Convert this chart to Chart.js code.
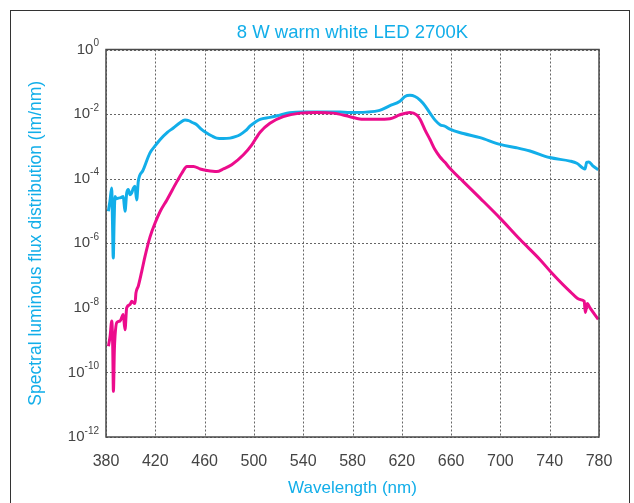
<!DOCTYPE html>
<html>
<head>
<meta charset="utf-8">
<script src="https://cdn.jsdelivr.net/npm/chart.js@4.4.1/dist/chart.umd.min.js"></script>
<style>
  html, body { margin: 0; padding: 0; background: #fff; }
  canvas { display: block; }
</style>
</head>
<body>
<canvas id="c" width="634" height="503"></canvas>
<script>
// ---- data ----
const blueWl = [381.9,383.2,384.6,385.2,385.9,386.6,387.3,388.5,390,392,394,395.4,396.8,398.1,399.5,400.8,402.2,403.5,404.9,406.2,410,415.7,420,423.8,430,434.6,440,444.1,447,450,453.6,457,461.7,466,469.8,475,480.6,485,488.7,493,497,501,505,513,521,529,540,555,570,578,591,602,610,618.5,622.6,626.6,630.7,634.8,638.9,643,647,651,655,659,670,683.5,699.7,713,724,740,756.5,762,768.6,770,771.8,775,779.4];
const blueVal = [9.8e-6,2.0e-5,5.1e-5,6.3e-6,3.5e-7,5.0e-6,2.8e-5,2.4e-5,2.5e-5,2.6e-5,2.8e-5,9.8e-6,3.6e-5,4.6e-5,3.2e-5,3.6e-5,5.1e-5,5.8e-5,2.2e-5,8.3e-5,1.8e-4,6.3e-4,1.05e-3,1.6e-3,2.75e-3,3.7e-3,5.4e-3,6.5e-3,6.3e-3,5.5e-3,4.7e-3,3.5e-3,2.6e-3,2.1e-3,1.8e-3,1.74e-3,1.8e-3,2.0e-3,2.3e-3,3.0e-3,4.3e-3,5.6e-3,6.9e-3,7.9e-3,9.3e-3,1.1e-2,1.17e-2,1.17e-2,1.15e-2,1.12e-2,1.15e-2,1.3e-2,1.8e-2,2.5e-2,3.5e-2,3.8e-2,3.5e-2,2.7e-2,1.8e-2,1.05e-2,6.5e-3,4.7e-3,4.2e-3,3.4e-3,2.5e-3,1.86e-3,1.15e-3,9.1e-4,7.2e-4,4.5e-4,3.5e-4,3.0e-4,2.0e-4,3.2e-4,3.3e-4,2.5e-4,1.9e-4];

const pinkWl = [382,383.3,384.7,385.5,386,386.8,387.3,388.7,391.4,394,395.4,396.8,399.5,400.8,403.5,404.3,406.2,409,411.7,415.8,419.9,424,429.4,437.5,441.6,445.7,451,456.4,461.8,469.9,475.3,482,491.5,498.3,505,513,523.8,537.4,551,564.5,578,588.8,599.6,610.4,618.5,626.6,632,634.8,638.9,643,647,651,655,659,669.9,683.5,699.7,716,732.2,741.7,756.6,764.7,768,768.9,770.5,772.7,779.4];
const pinkVal = [6.5e-10,1.3e-9,3.9e-9,5.1e-10,2.6e-11,5.1e-10,1.3e-9,3.5e-9,3.9e-9,6.2e-9,2.1e-9,1.0e-8,1.26e-8,1.6e-8,1.35e-8,2.9e-8,4.7e-8,1.35e-7,4.0e-7,1.6e-6,4.3e-6,9.8e-6,2.2e-5,8.1e-5,1.5e-4,2.4e-4,2.4e-4,2.0e-4,1.8e-4,1.66e-4,2.0e-4,2.7e-4,5.5e-4,1.12e-3,2.75e-3,5.2e-3,8.3e-3,1.07e-2,1.12e-2,1.07e-2,8.3e-3,6.9e-3,6.9e-3,7.2e-3,9.5e-3,1.12e-2,9.5e-3,6.9e-3,3.2e-3,1.6e-3,7.8e-4,4.7e-4,3.2e-4,2.1e-4,8.1e-5,2.5e-5,6.0e-6,1.3e-6,3.1e-7,1.2e-7,3.2e-8,1.8e-8,1.6e-8,7.2e-9,1.35e-8,1.0e-8,4.4e-9];

const xTicks = [380,420,460,500,540,580,620,660,700,740,780];
const yTickValues = [1e-12,1e-10,1e-8,1e-6,1e-4,1e-2,1];
const yTickExp = ['-12','-10','-8','-6','-4','-2','0'];

const CYAN = '#12aee9';
const PINK = '#ec0c8c';
const FONT = '"Liberation Sans", Arial, sans-serif';

const toPts = (xs, ys) => xs.map((x, i) => ({x: x, y: ys[i]}));

const decor = {
  id: 'decor',
  beforeDraw(chart) {
    const ctx = chart.ctx;
    ctx.save();
    ctx.fillStyle = '#fff';
    ctx.fillRect(0, 0, chart.width, chart.height);
    ctx.strokeStyle = '#333';
    ctx.lineWidth = 1;
    ctx.strokeRect(10.5, 10.5, 619, 600);
    ctx.restore();
  },
  beforeDatasetsDraw(chart) {
    const ctx = chart.ctx, a = chart.chartArea;
    const xs = chart.scales.x, ys = chart.scales.y;
    ctx.save();
    ctx.strokeStyle = '#666';
    ctx.lineWidth = 1;
    ctx.setLineDash([2, 2]);
    xTicks.forEach(v => {
      const px = Math.round(xs.getPixelForValue(v)) + 0.5;
      ctx.beginPath(); ctx.moveTo(px, a.top); ctx.lineTo(px, a.bottom); ctx.stroke();
    });
    yTickValues.forEach(v => {
      const py = Math.round(ys.getPixelForValue(v)) + 0.5;
      ctx.beginPath(); ctx.moveTo(a.left, py); ctx.lineTo(a.right, py); ctx.stroke();
    });
    ctx.restore();
  },
  afterDatasetsDraw(chart) {
    const ctx = chart.ctx, a = chart.chartArea;
    const ys = chart.scales.y;
    ctx.save();
    ctx.strokeStyle = '#4a4a4a';
    ctx.lineWidth = 1.5;
    ctx.strokeRect(a.left, a.top, a.right - a.left, a.bottom - a.top);
    // y tick labels with superscript exponents
    ctx.fillStyle = '#444';
    ctx.textBaseline = 'middle';
    yTickValues.forEach((v, i) => {
      const py = ys.getPixelForValue(v);
      const exp = yTickExp[i];
      ctx.font = '10px ' + FONT;
      const ew = ctx.measureText(exp).width;
      const right = a.left - 7;
      ctx.textAlign = 'right';
      ctx.fillText(exp, right, py - 6);
      ctx.font = '15px ' + FONT;
      ctx.fillText('10', right - ew, py);
    });
    ctx.restore();
  }
};

new Chart(document.getElementById('c'), {
  type: 'line',
  data: {
    datasets: [
      {
        data: toPts(pinkWl, pinkVal),
        borderColor: PINK,
        borderWidth: 3,
        pointRadius: 0,
        fill: false,
        cubicInterpolationMode: 'monotone'
      },
      {
        data: toPts(blueWl, blueVal),
        borderColor: CYAN,
        borderWidth: 3,
        pointRadius: 0,
        fill: false,
        cubicInterpolationMode: 'monotone'
      }
    ]
  },
  options: {
    responsive: false,
    animation: false,
    devicePixelRatio: 1,
    layout: { padding: { left: 0, right: 35, top: 0, bottom: 0 } },
    plugins: {
      legend: { display: false },
      tooltip: { enabled: false },
      title: {
        display: true,
        fullSize: false,
        text: '8 W warm white LED 2700K',
        color: CYAN,
        font: { family: FONT, size: 18.5, weight: 'normal' },
        padding: { top: 22.2, bottom: 5.1 }
      }
    },
    scales: {
      x: {
        type: 'linear',
        min: 380,
        max: 780,
        afterBuildTicks: s => { s.ticks = xTicks.map(v => ({value: v})); },
        afterFit: s => { s.height = 66; },
        grid: { display: false, drawTicks: false },
        border: { display: false },
        ticks: {
          color: '#444',
          font: { family: FONT, size: 16 },
          padding: 15,
          maxRotation: 0,
          autoSkip: false
        },
        title: {
          display: true,
          text: 'Wavelength (nm)',
          color: CYAN,
          font: { family: FONT, size: 17 },
          padding: { top: 0, bottom: 4.8 }
        }
      },
      y: {
        type: 'logarithmic',
        min: 1e-12,
        max: 1,
        afterBuildTicks: s => { s.ticks = yTickValues.map(v => ({value: v})); },
        afterFit: s => { s.width = 106; },
        grid: { display: false, drawTicks: false },
        border: { display: false },
        ticks: { display: false },
        title: {
          display: true,
          text: 'Spectral luminous flux distribution (lm/nm)',
          color: CYAN,
          font: { family: FONT, size: 17.5 },
          padding: { top: 25.5, bottom: 0 }
        }
      }
    }
  },
  plugins: [decor]
});
</script>
</body>
</html>
